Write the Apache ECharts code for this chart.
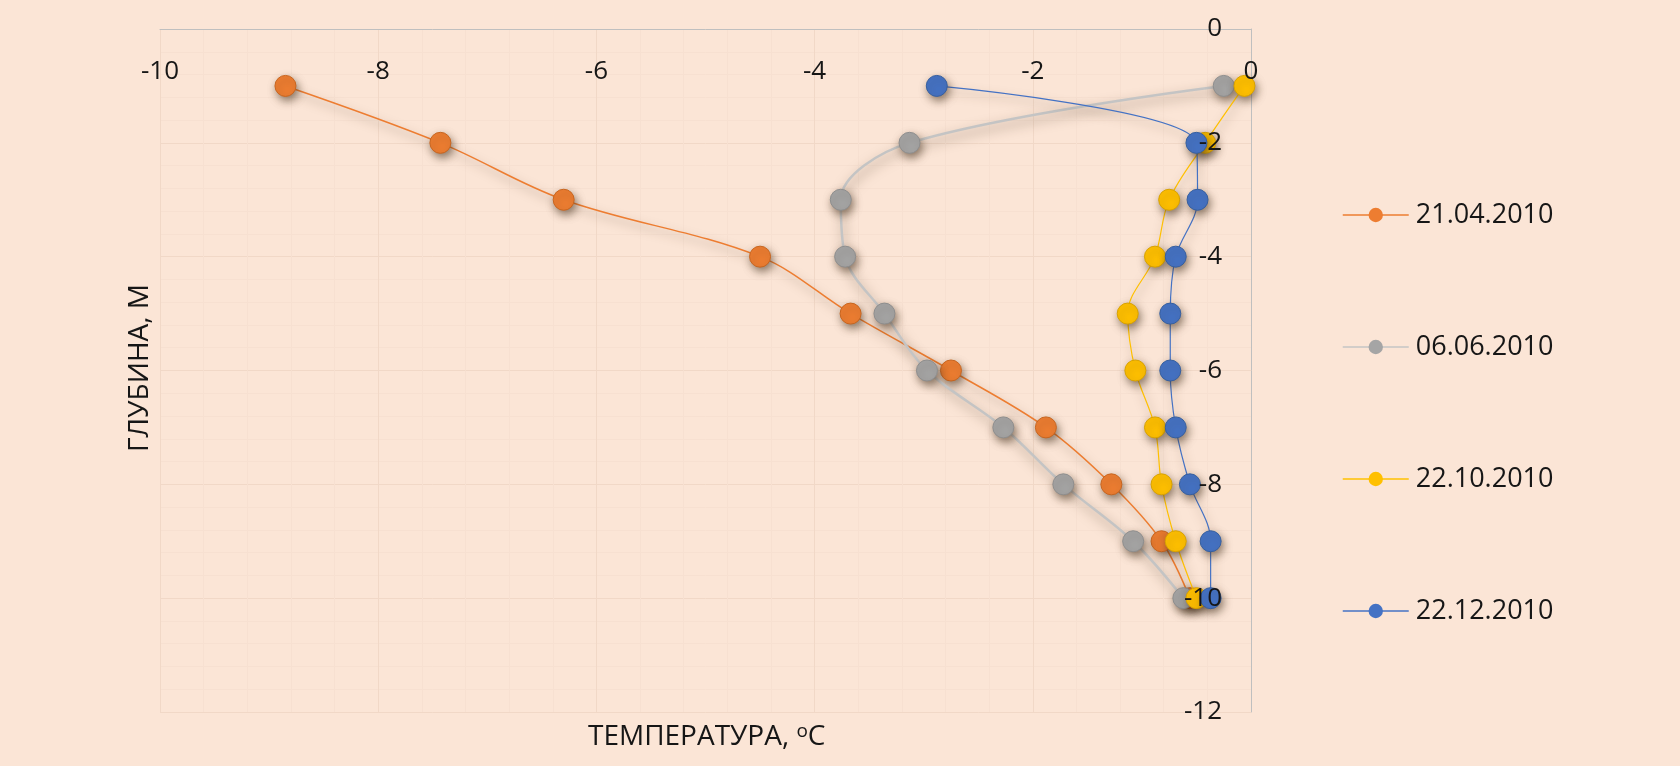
<!DOCTYPE html>
<html><head><meta charset="utf-8">
<script src="https://cdn.jsdelivr.net/npm/echarts@6/dist/echarts.min.js"></script>
<style>html,body{margin:0;padding:0;background:#FBE5D6;} #c{width:1680px;height:766px;}</style>
</head><body><div id="c"></div>
<script>
// ---- data ----
const depths = [-1, -2, -3, -4, -5, -6, -7, -8, -9, -10];
const seriesNames = ['21.04.2010', '06.06.2010', '22.10.2010', '22.12.2010'];
const temp_21_04 = [-8.85, -7.43, -6.30, -4.50, -3.67, -2.75, -1.88, -1.28, -0.82, -0.56];
const temp_06_06 = [-0.25, -3.13, -3.76, -3.72, -3.36, -2.97, -2.27, -1.72, -1.08, -0.62];
const temp_22_10 = [-0.06, -0.42, -0.75, -0.88, -1.13, -1.06, -0.88, -0.82, -0.69, -0.50];
const temp_22_12 = [-2.88, -0.50, -0.49, -0.69, -0.74, -0.74, -0.69, -0.56, -0.37, -0.37];
const xRange = [-10, 0, 2];
const yRange = [-12, 0, 2];
const xTitle = 'ТЕМПЕРАТУРА, ';
const xTitleSup = 'o';
const xTitleUnit = 'C';
const yTitle = 'ГЛУБИНА, М';

// ---- style ----
const FONT = '"Open Sans", "DejaVu Sans", sans-serif';
const TXT = '#161616';
const colors = ['#ED7D31', '#A5A5A5', '#FFC000', '#4472C4'];
const lineColors = ['#ED7D31', '#C4C4C4', '#FFC000', '#4472C4'];
const borderColors = ['#C8651F', '#8E8E8E', '#D9A200', '#365F9F'];
const lineWidths = [1.5, 2.5, 1.2, 1.2];
const temps = [temp_21_04, temp_06_06, temp_22_10, temp_22_12];

const GRID = {left: 160, right: 429, top: 29, bottom: 54};

function mkSeries(i) {
  const heavy = i === 1;
  return {
    name: seriesNames[i],
    type: 'line',
    xAxisIndex: 0, yAxisIndex: 0,
    data: temps[i].map((t, k) => [t, depths[k]]),
    smooth: 0.35,
    symbol: 'circle',
    symbolSize: 21,
    z: 2 + i,
    lineStyle: {
      color: lineColors[i], width: lineWidths[i],
      shadowColor: heavy ? 'rgba(85,65,45,0.6)' : 'rgba(85,65,45,0.5)',
      shadowBlur: heavy ? 12 : 10, shadowOffsetX: 2, shadowOffsetY: 5
    },
    itemStyle: {
      color: colors[i], borderColor: borderColors[i], borderWidth: 1, opacity: 1,
      shadowColor: 'rgba(70,50,30,0.6)', shadowBlur: 8, shadowOffsetX: 2, shadowOffsetY: 4
    },
    emphasis: {disabled: true},
    animation: false
  };
}

const gridLine = {show: true, lineStyle: {color: '#F1D8C7', width: 1}};
const minorLine = {show: true, lineStyle: {color: '#F7E0D1', width: 1}};

const option = {
  backgroundColor: '#FBE5D6',
  animation: false,
  grid: GRID,
  xAxis: [
    {type: 'value', position: 'top', min: xRange[0], max: xRange[1], interval: xRange[2],
     axisLine: {show: true, onZero: false, lineStyle: {color: '#BFBFBF', width: 1}},
     axisTick: {show: false}, axisLabel: {show: false},
     splitLine: gridLine, minorTick: {show: false, splitNumber: 5}, minorSplitLine: minorLine, z: 0},
    {type: 'value', position: 'top', min: xRange[0], max: xRange[1], interval: xRange[2],
     axisLine: {show: false, onZero: false}, axisTick: {show: false}, splitLine: {show: false},
     axisLabel: {show: true, inside: true, margin: 30, fontSize: 26, color: TXT, fontFamily: FONT},
     z: 20}
  ],
  yAxis: [
    {type: 'value', position: 'right', min: yRange[0], max: yRange[1], interval: yRange[2],
     axisLine: {show: true, onZero: false, lineStyle: {color: '#BFBFBF', width: 1}},
     axisTick: {show: false}, axisLabel: {show: false},
     splitLine: gridLine, minorTick: {show: false, splitNumber: 5}, minorSplitLine: minorLine, z: 0},
    {type: 'value', position: 'right', min: yRange[0], max: yRange[1], interval: yRange[2],
     axisLine: {show: false, onZero: false}, axisTick: {show: false}, splitLine: {show: false},
     axisLabel: {show: true, inside: true, margin: 29, fontSize: 26, color: TXT, fontFamily: FONT},
     z: 20}
  ],
  legend: {
    orient: 'vertical', left: 1337, top: 195,
    itemWidth: 66, itemHeight: 18, itemGap: 102,
    data: seriesNames,
    textStyle: {fontSize: 27, color: TXT, fontFamily: FONT, lineHeight: 30, padding: [0, 0, 0, 2]},
    itemStyle: {shadowBlur: 0, shadowColor: 'transparent', borderWidth: 0},
    lineStyle: {width: 1.5, shadowBlur: 0, shadowColor: 'transparent'}
  },
  graphic: [
    {type: 'text', x: 588, y: 737, z: 30,
     style: {text: xTitle + '{s|' + xTitleSup + '}' + xTitleUnit, fill: TXT, fontSize: 28, fontFamily: FONT,
             align: 'left', verticalAlign: 'middle',
             rich: {s: {fontSize: 19, fontFamily: FONT, fill: TXT, verticalAlign: 'top', lineHeight: 30}}}},
    {type: 'text', x: 140, y: 368, rotation: Math.PI / 2, z: 30,
     style: {text: yTitle, fill: TXT, fontSize: 28, fontFamily: FONT, align: 'center', verticalAlign: 'middle'}}
  ],
  series: [0, 1, 2, 3].map(mkSeries)
};

const chart = echarts.init(document.getElementById('c'), null, {renderer: 'canvas'});
chart.setOption(option);
</script>
</body></html>
